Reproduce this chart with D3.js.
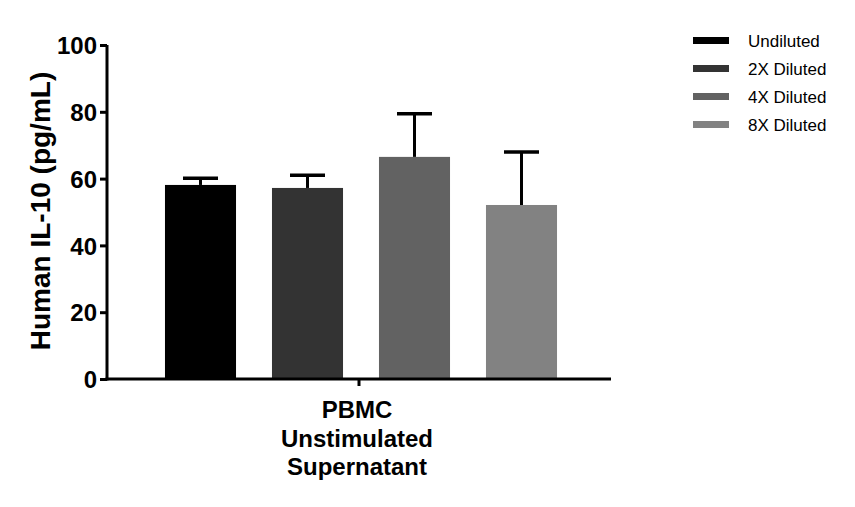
<!DOCTYPE html>
<html lang="en">
<head>
<meta charset="utf-8">
<title>Human IL-10</title>
<script src="https://cdn.jsdelivr.net/npm/d3@7"></script>
<style>
  html, body { margin: 0; padding: 0; background: #fff; }
  svg { display: block; }
  .tick text { font-family: "Liberation Sans", Arial, sans-serif; font-weight: bold; }
</style>
</head>
<body>
<script>
// data
let groups = ["PBMC Unstimulated Supernatant"];
let groupLines = [["PBMC", "Unstimulated", "Supernatant"]];
let series = ["Undiluted", "2X Diluted", "4X Diluted", "8X Diluted"];
let means = [58.1, 57.2, 66.5, 52.1];
let errs = [2.0, 3.8, 12.9, 15.9];
let colors = ["#000000", "#333333", "#626262", "#828282"];
let yTicks = [0, 20, 40, 60, 80, 100];

let w = 855, h = 507;
let padL = 107, padR = 611, padT = 45, padB = 379;

let svg = d3.select("body").append("svg")
    .attr("width", w)
    .attr("height", h);

let yScale = d3.scaleLinear()
    .domain([0, 100])
    .range([padB, padT]);

let xScale = d3.scaleBand()
    .domain(groups)
    .range([padL, padR]);

let sScale = d3.scaleBand()
    .domain(series)
    .range([147, 575])
    .paddingInner(0.336)
    .paddingOuter(0.168);

// bars
svg.selectAll("rect.bar")
    .data(series)
    .enter()
    .append("rect")
    .attr("class", "bar")
    .attr("x", d => sScale(d))
    .attr("y", (d, i) => yScale(means[i]))
    .attr("width", sScale.bandwidth())
    .attr("height", (d, i) => yScale(0) - yScale(means[i]))
    .attr("fill", (d, i) => colors[i]);

// error bars (upper only)
let capW = 35;
let eb = svg.selectAll("g.err")
    .data(series)
    .enter()
    .append("g")
    .attr("class", "err");

eb.append("line")
    .attr("x1", d => sScale(d) + sScale.bandwidth() / 2)
    .attr("x2", d => sScale(d) + sScale.bandwidth() / 2)
    .attr("y1", (d, i) => yScale(means[i]))
    .attr("y2", (d, i) => yScale(means[i] + errs[i]))
    .attr("stroke", "#000")
    .attr("stroke-width", 3);

eb.append("line")
    .attr("x1", d => sScale(d) + sScale.bandwidth() / 2 - capW / 2)
    .attr("x2", d => sScale(d) + sScale.bandwidth() / 2 + capW / 2)
    .attr("y1", (d, i) => yScale(means[i] + errs[i]))
    .attr("y2", (d, i) => yScale(means[i] + errs[i]))
    .attr("stroke", "#000")
    .attr("stroke-width", 3.5);

// y axis
let yAxis = d3.axisLeft(yScale)
    .tickValues(yTicks)
    .tickSize(7)
    .tickSizeOuter(0)
    .tickPadding(3);

let gy = svg.append("g")
    .attr("transform", "translate(" + padL + ",0)")
    .call(yAxis);
gy.select(".domain").attr("stroke-width", 3).attr("d", "M0," + (padB + 1.5) + "V" + padT);
gy.selectAll(".tick line").attr("stroke-width", 3);
gy.selectAll(".tick text").attr("font-size", "24px").attr("fill", "#000").attr("dy", "0.36em");

// x axis
let xAxis = d3.axisBottom(xScale)
    .tickSize(7)
    .tickSizeOuter(0)
    .tickFormat("");

let gx = svg.append("g")
    .attr("transform", "translate(0," + padB + ")")
    .call(xAxis);
gx.select(".domain").attr("stroke-width", 3).attr("d", "M" + (padL - 1.5) + ",0H" + padR);
gx.selectAll(".tick line").attr("stroke-width", 3);

// multi-line category label
gx.selectAll(".tick")
    .append("text")
    .attr("fill", "#000")
    .attr("font-size", "24px")
    .attr("text-anchor", "middle")
    .selectAll("tspan")
    .data((d, i) => groupLines[i])
    .enter()
    .append("tspan")
    .attr("x", -2)
    .attr("y", (d, i) => 39 + i * 28.5)
    .text(d => d);

// y title
svg.append("text")
    .attr("transform", "translate(50," + 211 + ") rotate(-90)")
    .attr("text-anchor", "middle")
    .style("font-family", "'Liberation Sans', Arial, sans-serif")
    .style("font-weight", "bold")
    .style("font-size", "28px")
    .text("Human IL-10 (pg/mL)");

// legend
let legendY = d3.scalePoint()
    .domain(series)
    .range([40.5, 124.5]);

let lg = svg.selectAll("g.legend")
    .data(series)
    .enter()
    .append("g")
    .attr("class", "legend")
    .attr("transform", d => "translate(693," + legendY(d) + ")");

lg.append("rect")
    .attr("x", 0)
    .attr("y", -3.5)
    .attr("width", 36)
    .attr("height", 7)
    .attr("fill", (d, i) => colors[i]);

lg.append("text")
    .attr("x", 55)
    .attr("y", 6)
    .style("font-family", "'Liberation Sans', Arial, sans-serif")
    .style("font-size", "17px")
    .attr("fill", "#000")
    .text(d => d);
</script>
</body>
</html>
